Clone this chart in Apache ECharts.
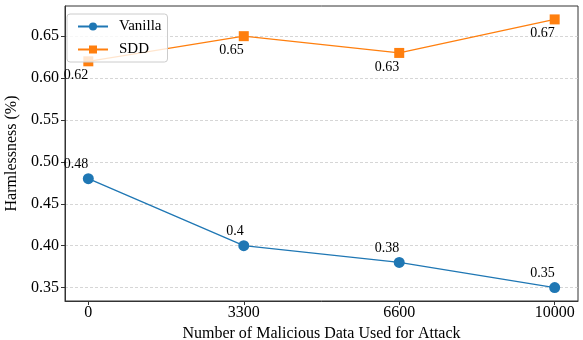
<!DOCTYPE html>
<html>
<head>
<meta charset="utf-8">
<script src="https://cdn.jsdelivr.net/npm/echarts@6/dist/echarts.min.js"></script>
<style>html,body{margin:0;padding:0;background:#fff;}#c{width:583px;height:340px;}</style>
</head>
<body>
<div id="c"></div>
<script>
const categories = ['0', '3300', '6600', '10000'];
const vanilla = [0.48, 0.40, 0.38, 0.35];
const sdd = [0.62, 0.65, 0.63, 0.67];
const yTicks = [0.35, 0.40, 0.45, 0.50, 0.55, 0.60, 0.65];
const vanillaLabels = ['0.48', '0.4', '0.38', '0.35'];
const sddLabels = ['0.62', '0.65', '0.63', '0.67'];

const FONT = 'Liberation Serif';
const chart = echarts.init(document.getElementById('c'), null, {renderer: 'canvas'});
const xIdx = categories.map((_, i) => i);
chart.setOption({
  animation: false,
  backgroundColor: '#fff',
  textStyle: {fontFamily: FONT},
  grid: {left: 65, right: 5, top: 6, bottom: 39, show: true, borderColor: '#333', borderWidth: 1,
    containLabel: false, outerBoundsMode: 'none'},
  legend: {
    left: 67, top: 14, orient: 'vertical',
    itemWidth: 30, itemHeight: 10, itemGap: 8,
    padding: [5, 6, 5, 10],
    borderColor: '#ccc', borderWidth: 1, borderRadius: 3,
    backgroundColor: 'rgba(255,255,255,0.8)',
    textStyle: {fontFamily: FONT, fontSize: 15, color: '#000', padding: [0, 0, 0, 6]},
    data: ['Vanilla', 'SDD']
  },
  xAxis: {
    type: 'value', min: -0.15, max: 3.15,
    name: 'Number of Malicious Data Used for Attack', nameLocation: 'middle', nameGap: 16,
    nameTextStyle: {fontFamily: FONT, fontSize: 16, color: '#000'},
    axisLine: {show: true, onZero: false, lineStyle: {color: '#333', width: 1}},
    axisTick: {show: true, customValues: xIdx, length: 4, lineStyle: {color: '#333'}},
    axisLabel: {customValues: xIdx, fontFamily: FONT, fontSize: 16, color: '#000', margin: 4,
      formatter: v => categories[Math.round(v)]},
    splitLine: {show: false}
  },
  yAxis: {
    type: 'value', min: 0.334, max: 0.686,
    name: 'Harmlessness (%)', nameLocation: 'middle', nameGap: 36,
    nameTextStyle: {fontFamily: FONT, fontSize: 16, color: '#000'},
    axisLine: {show: true, onZero: false, lineStyle: {color: '#333', width: 1}},
    axisTick: {show: true, customValues: yTicks, length: 4, lineStyle: {color: '#333'}},
    axisLabel: {customValues: yTicks, fontFamily: FONT, fontSize: 16, color: '#000', margin: 6,
      formatter: v => v.toFixed(2)},
    splitLine: {show: true, lineStyle: {color: '#ccc', type: [3, 2], width: 0.8}}
  },
  series: [
    {
      name: 'Vanilla', type: 'line',
      data: vanilla.map((v, i) => [i, v]),
      symbol: 'circle', symbolSize: 11,
      itemStyle: {color: '#1f77b4'}, lineStyle: {color: '#1f77b4', width: 1.3},
      label: {show: true, position: 'top', align: 'right', distance: 2, fontFamily: FONT, fontSize: 14, color: '#000',
        formatter: p => vanillaLabels[p.dataIndex]},
      z: 3
    },
    {
      name: 'SDD', type: 'line',
      data: sdd.map((v, i) => [i, v]),
      symbol: 'rect', symbolSize: 10,
      itemStyle: {color: '#ff7f0e'}, lineStyle: {color: '#ff7f0e', width: 1.3},
      label: {show: true, position: 'bottom', align: 'right', distance: 2, fontFamily: FONT, fontSize: 14, color: '#000',
        formatter: p => sddLabels[p.dataIndex]},
      z: 3
    }
  ]
});
</script>
</body>
</html>
